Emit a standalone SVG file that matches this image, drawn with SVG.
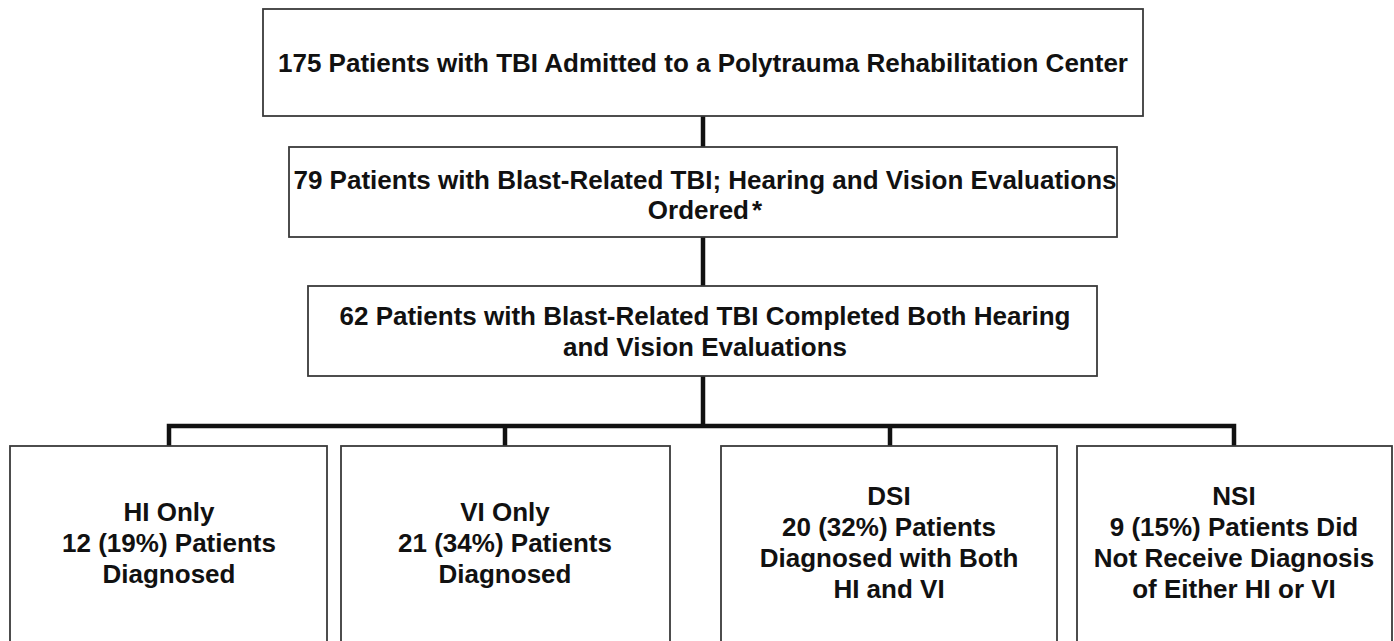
<svg xmlns="http://www.w3.org/2000/svg" width="1394" height="641" viewBox="0 0 1394 641">
<style>
.box{fill:#fff;stroke:#3a3a3a;stroke-width:1.8}
.t{font-family:"Liberation Sans",Arial,sans-serif;font-weight:bold;font-size:26px;fill:#111;text-anchor:middle}
.c{stroke:#111;stroke-width:4.5;fill:none}
</style>
<rect width="1394" height="641" fill="#fff"/>
<g id="connectors">
<line class="c" x1="703" y1="116" x2="703" y2="147"/>
<line class="c" x1="703" y1="237" x2="703" y2="286"/>
<line class="c" x1="703" y1="376" x2="703" y2="426"/>
<polyline class="c" points="169,446 169,426 1234,426 1234,446"/>
<line class="c" x1="505" y1="426" x2="505" y2="446"/>
<line class="c" x1="890" y1="426" x2="890" y2="446"/>
</g>
<g id="n1">
<rect class="box" x="263" y="9" width="880" height="107"/>
<text class="t" x="703" y="72">175 Patients with TBI Admitted to a Polytrauma Rehabilitation Center</text>
</g>
<g id="n2">
<rect class="box" x="289" y="147" width="828" height="90"/>
<text class="t" x="705" y="189" font-size="25.4">79 Patients with Blast-Related TBI; Hearing and Vision Evaluations</text>
<text class="t" x="705" y="219">Ordered<tspan dx="3">*</tspan></text>
</g>
<g id="n3">
<rect class="box" x="308" y="286" width="789" height="90"/>
<text class="t" x="705" y="325">62 Patients with Blast-Related TBI Completed Both Hearing</text>
<text class="t" x="705" y="356">and Vision Evaluations</text>
</g>
<g id="n4">
<rect class="box" x="10" y="446" width="317" height="200"/>
<text class="t" x="169" y="521">HI Only</text>
<text class="t" x="169" y="552">12 (19%) Patients</text>
<text class="t" x="169" y="583">Diagnosed</text>
</g>
<g id="n5">
<rect class="box" x="341" y="446" width="329" height="200"/>
<text class="t" x="505" y="521">VI Only</text>
<text class="t" x="505" y="552">21 (34%) Patients</text>
<text class="t" x="505" y="583">Diagnosed</text>
</g>
<g id="n6">
<rect class="box" x="721" y="446" width="336" height="200"/>
<text class="t" x="889" y="505">DSI</text>
<text class="t" x="889" y="536">20 (32%) Patients</text>
<text class="t" x="889" y="567">Diagnosed with Both</text>
<text class="t" x="889" y="598">HI and VI</text>
</g>
<g id="n7">
<rect class="box" x="1077" y="446" width="315" height="200"/>
<text class="t" x="1234" y="505">NSI</text>
<text class="t" x="1234" y="536">9 (15%) Patients Did</text>
<text class="t" x="1234" y="567">Not Receive Diagnosis</text>
<text class="t" x="1234" y="598">of Either HI or VI</text>
</g>
</svg>
